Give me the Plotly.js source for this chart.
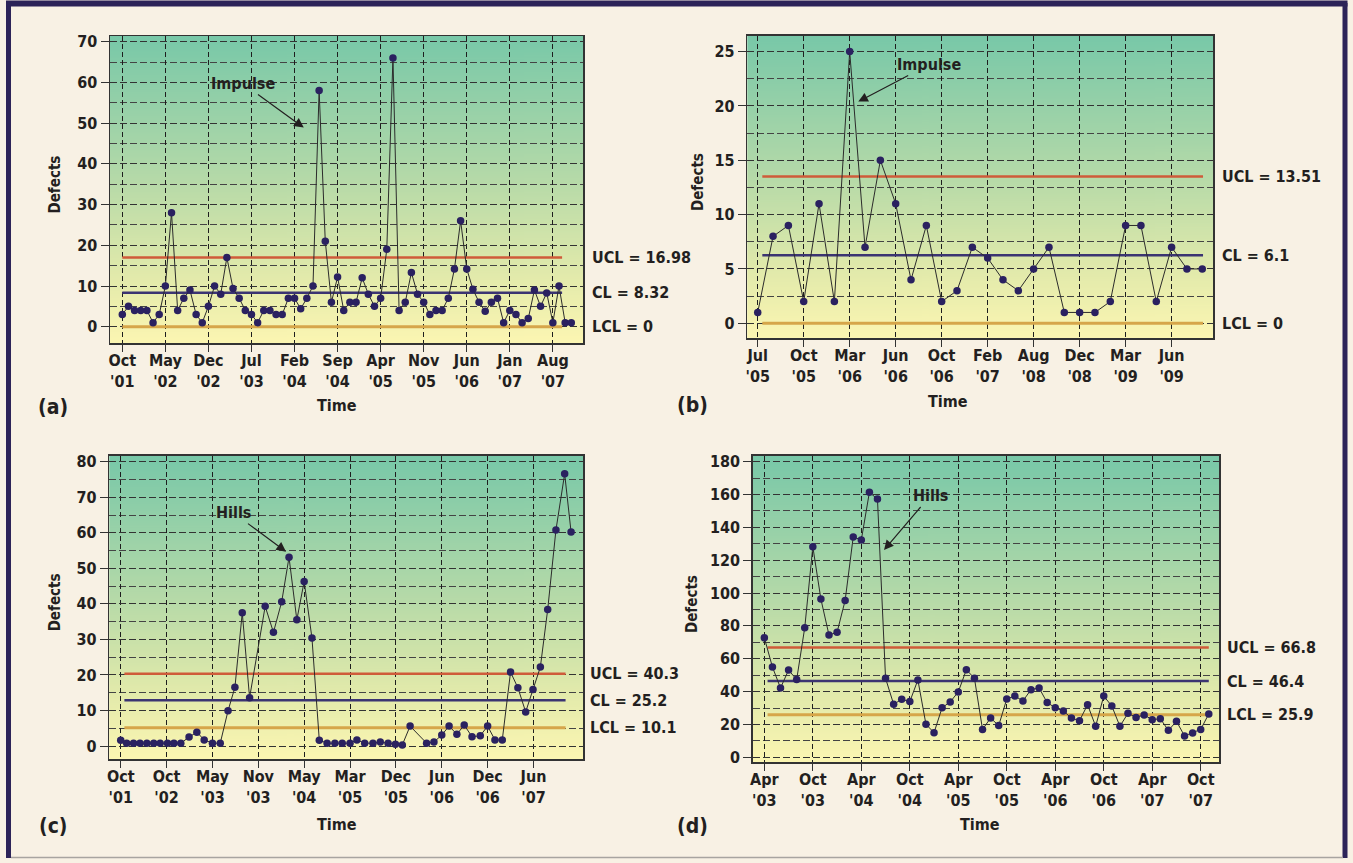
<!DOCTYPE html>
<html><head><meta charset="utf-8">
<script src="https://cdn.plot.ly/plotly-3.0.1.min.js"></script>
<style>html,body{margin:0;padding:0;background:#f8f1e4;} #chart{width:1353px;height:863px;}</style>
</head><body><div id="chart"></div>
<script>
// ================= DATA =================
// (a) monthly defects, Oct '01 .. Nov '07 (x = month index)
const aTickText = ["Oct<br>'01","May<br>'02","Dec<br>'02","Jul<br>'03","Feb<br>'04","Sep<br>'04","Apr<br>'05","Nov<br>'05","Jun<br>'06","Jan<br>'07","Aug<br>'07"];
const aTickStep = 7;
const aDefects = [3,5,4,4,4,1,3,10,28,4,7,9,3,1,5,10,8,17,9.4,7,4,3,1,4,4,3,3,7,7,4.4,7,10,58,21,6,12.2,4,6,6,12,8,5,7,19,66,4,6,13.3,8,6,3,4,4,7,14.2,26,14.2,9.2,6,3.8,6,7,1,4,3,1,2,9,5,8.3,1,10,1,1];
const aLimitValues = [16.98, 8.32, 0];
const aLimitLabels = ["UCL = 16.98","CL = 8.32","LCL = 0"];
const aLimitSpan = [0, 71.5];

// (b) x = sample index, labels every 3 samples
const bTickText = ["Jul<br>'05","Oct<br>'05","Mar<br>'06","Jun<br>'06","Oct<br>'06","Feb<br>'07","Aug<br>'08","Dec<br>'08","Mar<br>'09","Jun<br>'09"];
const bTickStep = 3;
const bDefects = [1,8,9,2,11,2,25,7,15,11,4,9,2,3,7,6,4,3,5,7,1,1,1,2,9,9,2,7,5,5];
const bLimitValues = [13.51, 6.25, 0];
const bLimitLabels = ["UCL = 13.51","CL = 6.1","LCL = 0"];
const bLimitSpan = [0.3, 29.05];

// (c) x = position along the labelled axis (one unit per label)
const cTickText = ["Oct<br>'01","Oct<br>'02","May<br>'03","Nov<br>'03","May<br>'04","Mar<br>'05","Dec<br>'05","Jun<br>'06","Dec<br>'06","Jun<br>'07"];
const cX = [0,0.13,0.28,0.42,0.57,0.72,0.86,1.02,1.16,1.31,1.49,1.66,1.82,2.0,2.17,2.34,2.49,2.65,2.81,3.15,3.33,3.51,3.67,3.84,4.0,4.17,4.33,4.5,4.67,4.83,5.0,5.15,5.32,5.5,5.66,5.83,5.99,6.14,6.31,6.67,6.83,7.0,7.16,7.33,7.49,7.66,7.84,8.0,8.16,8.32,8.5,8.66,8.83,8.99,9.15,9.31,9.49,9.68,9.82];
const cDefects = [1.6,0.8,0.8,0.8,0.8,0.8,0.8,0.8,0.8,0.8,2.5,3.9,1.7,0.8,0.8,9.9,16.5,37.5,13.6,39.3,32,40.6,53.1,35.5,46.3,30.4,1.6,0.8,0.8,0.8,0.8,1.7,0.8,0.8,1.1,0.8,0.5,0.3,5.6,0.8,1.1,3.1,5.6,3.3,5.9,2.6,2.9,5.6,1.7,1.7,20.8,16.4,9.6,15.9,22.2,38.4,60.8,76.6,60.2];
const cLimitValues = [20.3, 12.9, 5.1];
const cLimitLabels = ["UCL = 40.3","CL = 25.2","LCL = 10.1"];
const cLimitSpan = [0.08, 9.70];

// (d) monthly, Apr '03 .. Nov '07 (x = month index)
const dTickText = ["Apr<br>'03","Oct<br>'03","Apr<br>'04","Oct<br>'04","Apr<br>'05","Oct<br>'05","Apr<br>'06","Oct<br>'06","Apr<br>'07","Oct<br>'07"];
const dTickStep = 6;
const dDefects = [72.8,55,42.2,53.1,47.3,78.9,128.2,96.3,74.4,76.1,95.5,134.1,132.3,161.3,157.2,48.1,32.3,35.3,33.9,47.1,20.1,15,30.2,33.7,39.8,53.3,48.1,17,23.9,19.3,35.5,37.3,34.3,41.2,42.2,33.3,30.2,28.2,23.9,22.3,32,18.9,37.3,31.2,18.9,26.8,24.3,25.8,22.9,23.5,16.4,21.9,13,14.8,17,26.4];
const dLimitValues = [66.8, 46.4, 25.9];
const dLimitLabels = ["UCL = 66.8","CL = 46.4","LCL = 25.9"];
const dLimitSpan = [0.4, 55];

// ================= STYLE / LAYOUT =================
const W = 1353, H = 863;
const FONT = "Liberation Sans Narrow, DejaVu Sans Condensed, Arial Narrow, sans-serif";
const INK = '#231f20';
const NAVY = '#2a2160';
const LIMIT_COLORS = ['#cf5b3a', '#3b3472', '#d6a64a'];
const LIMIT_WIDTHS = [2.5, 2.5, 3];

const px = (x) => x / W;
const py = (y) => 1 - y / H;

function gradientURL() {
  const c = document.createElement('canvas');
  c.width = 4; c.height = 512;
  const g = c.getContext('2d');
  const gr = g.createLinearGradient(0, 0, 0, 512);
  gr.addColorStop(0, '#78c8a8');
  gr.addColorStop(0.45, '#b3d9a8');
  gr.addColorStop(0.78, '#e2eaab');
  gr.addColorStop(1, '#fcf6b2');
  g.fillStyle = gr; g.fillRect(0, 0, 4, 512);
  return c.toDataURL();
}
const GRAD = gradientURL();

const panels = [
  {id:'', x:null, y:aDefects, tickText:aTickText, tickStep:aTickStep, lim:aLimitValues, limLab:aLimitLabels, span:aLimitSpan,
   dom:[110,583,36,343], xr:[-2,74.9], yr:[-4.0,71.4], dtick:10, minor:5, labX:590, defX:55, timeX:337, timeY:406, tag:'(a)', tagX:53, tagY:407},
  {id:'2', x:null, y:bDefects, tickText:bTickText, tickStep:bTickStep, lim:bLimitValues, limLab:bLimitLabels, span:bLimitSpan,
   dom:[747.3,1213.3,35.7,338.3], xr:[-0.68,29.72], yr:[-1.38,26.46], dtick:5, minor:2.5, labX:1220, defX:698, timeX:948, timeY:401, tag:'(b)', tagX:692, tagY:405},
  {id:'3', x:cX, y:cDefects, tickText:cTickText, tickStep:1, lim:cLimitValues, limLab:cLimitLabels, span:cLimitSpan,
   dom:[109.3,583,455.7,759], xr:[-0.249,10.08], yr:[-3.66,81.7], dtick:10, minor:5, labX:588, defX:55, timeX:337, timeY:824, tag:'(c)', tagX:53, tagY:826},
  {id:'4', x:null, y:dDefects, tickText:dTickText, tickStep:dTickStep, lim:dLimitValues, limLab:dLimitLabels, span:dLimitSpan,
   dom:[752.7,1219.3,455.7,762.3], xr:[-1.44,56.3], yr:[-3.04,183.6], dtick:20, minor:10, labX:1225, defX:692, timeX:980, timeY:824, tag:'(d)', tagX:692, tagY:826}
];

const traces = [];
const layout = {
  width: W, height: H,
  margin: {l:0, r:0, t:0, b:0},
  paper_bgcolor: '#f8f1e4',
  plot_bgcolor: 'rgba(0,0,0,0)',
  showlegend: false,
  font: {family: FONT, color: INK, size: 16, weight: 700},
  images: [], annotations: [], shapes: []
};

panels.forEach(p => {
  const xa = 'x' + p.id, ya = 'y' + p.id;
  const xs = p.x ? p.x : p.y.map((_, i) => i);
  // control limit lines
  p.lim.forEach((v, k) => {
    traces.push({type:'scatter', mode:'lines', x:p.span, y:[v, v], xaxis:xa, yaxis:ya,
      line:{color:LIMIT_COLORS[k], width:LIMIT_WIDTHS[k]}, hoverinfo:'skip'});
    layout.annotations.push({xref:'paper', yref:ya, x:px(p.labX), y:v, xanchor:'left', yanchor:'middle',
      text:p.limLab[k], showarrow:false, font:{size:16, family:FONT, weight:700, color:INK}});
  });
  // defects series
  traces.push({type:'scatter', mode:'lines+markers', x:xs, y:p.y, xaxis:xa, yaxis:ya,
    line:{color:'#2b2b2b', width:1}, marker:{color:NAVY, size:7.5}});

  const tickvals = p.tickText.map((_, i) => i * p.tickStep);
  layout['xaxis' + p.id] = {
    domain:[px(p.dom[0]), px(p.dom[1])], anchor:ya, range:p.xr,
    tickmode:'array', tickvals:tickvals, ticktext:p.tickText,
    showgrid:true, gridcolor:'#1e1e1e', gridwidth:1, griddash:'5px,3px',
    ticks:'outside', ticklen:7, tickcolor:'#333', tickwidth:1, ticklabelstandoff:-5,
    showline:true, mirror:true, linecolor:'#333', linewidth:1.5,
    zeroline:false, fixedrange:true,
    tickfont:{size:16, family:FONT, weight:700, color:INK}
  };
  layout['yaxis' + p.id] = {
    domain:[py(p.dom[3]), py(p.dom[2])], anchor:xa, range:p.yr,
    tick0:0, dtick:p.dtick,
    showgrid:true, gridcolor:'#333', gridwidth:1, griddash:'7px,3px',
    minor:{tick0:0, dtick:p.minor, showgrid:true, gridcolor:'#444', gridwidth:1, griddash:'7px,3px', ticks:''},
    ticks:'outside', ticklen:8, tickcolor:'#333', tickwidth:1,
    showline:true, mirror:true, linecolor:'#333', linewidth:1.5,
    zeroline:false, fixedrange:true,
    tickfont:{size:16, family:FONT, weight:700, color:INK}
  };
  layout.images.push({source:GRAD, xref:xa + ' domain', yref:ya + ' domain', x:0, y:1, sizex:1, sizey:1,
    xanchor:'left', yanchor:'top', sizing:'stretch', layer:'below'});
  // axis titles and panel tag
  layout.annotations.push({xref:'paper', yref:'paper', x:px(p.defX), y:py((p.dom[2] + p.dom[3]) / 2 - 5),
    xanchor:'center', yanchor:'middle',
    text:'Defects', textangle:-90, showarrow:false, font:{size:15, family:FONT, weight:700, color:INK}});
  layout.annotations.push({xref:'paper', yref:'paper', x:px(p.timeX), y:py(p.timeY),
    xanchor:'center', yanchor:'middle',
    text:'Time', showarrow:false, font:{size:16, family:FONT, weight:700, color:INK}});
  layout.annotations.push({xref:'paper', yref:'paper', x:px(p.tagX), y:py(p.tagY),
    xanchor:'center', yanchor:'middle',
    text:p.tag, showarrow:false, font:{size:21, family:FONT, weight:700, color:INK}});
});

// pointer annotations
const callouts = [
  {text:'Impulse', xref:'x',  yref:'y',  x:29.5, y:48.9,  ax:-61, ay:-44},
  {text:'Impulse', xref:'x2', yref:'y2', x:6.56, y:20.4,  ax:71,  ay:-37},
  {text:'Hills',   xref:'x3', yref:'y3', x:3.605, y:54.7, ax:-53, ay:-39},
  {text:'Hills',   xref:'x4', yref:'y4', x:14.81, y:126.2, ax:46, ay:-54}
];
callouts.forEach(c => layout.annotations.push({
  xref:c.xref, yref:c.yref, x:c.x, y:c.y, ax:c.ax, ay:c.ay, axref:'pixel', ayref:'pixel',
  text:c.text, showarrow:true, arrowhead:2, arrowsize:1.6, arrowwidth:1.2, arrowcolor:INK,
  font:{size:16, family:FONT, weight:700, color:INK}
}));

// outer frame
layout.shapes.push(
  {type:'line', xref:'paper', yref:'paper', x0:px(8.5), x1:px(8.5), y0:py(3), y1:py(858), line:{color:'#2c2358', width:5}},
  {type:'line', xref:'paper', yref:'paper', x0:px(6), x1:px(1347.5), y0:py(3.5), y1:py(3.5), line:{color:'#2c2358', width:6}},
  {type:'line', xref:'paper', yref:'paper', x0:px(1345), x1:px(1345), y0:py(3), y1:py(858), line:{color:'#2c2358', width:5}},
  {type:'line', xref:'paper', yref:'paper', x0:px(11), x1:px(1343), y0:py(857.5), y1:py(857.5), line:{color:'#a8a4a0', width:1.5}}
);

Plotly.newPlot('chart', traces, layout, {displayModeBar:false, staticPlot:true});
</script>
</body></html>
